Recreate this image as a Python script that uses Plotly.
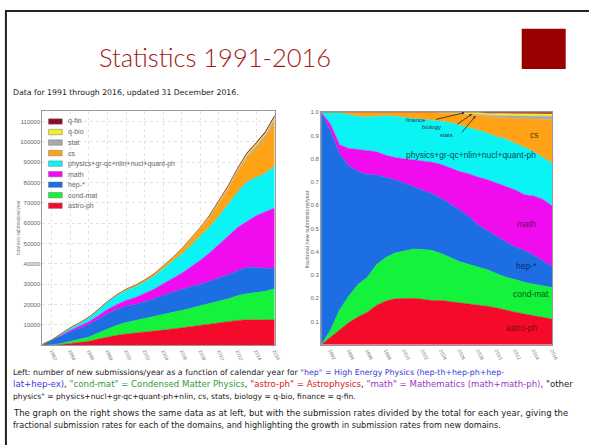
import plotly.graph_objects as go

W, H = 589, 445

# Yearly new submissions per archive group, 1991-2016
years = list(range(1991, 2017))
astro_ph = [0, 80, 360, 820, 1320, 1930, 2980, 4040, 4890, 5500, 5900, 6240, 6650,
            7410, 7960, 8550, 9290, 9980, 10560, 11220, 11620, 12180, 12470, 12440, 12390, 12430]
cond_mat = [0, 80, 480, 990, 1540, 2070, 3060, 4020, 4910, 5640, 6250, 6880, 7530,
            7880, 8170, 8410, 8820, 9450, 10050, 10440, 11150, 12180, 12850, 13430, 14180, 15370]
hep = [400, 2240, 3750, 4820, 5340, 6110, 6740, 7420, 7810, 7980, 7910, 8160, 8580,
       9280, 9890, 10590, 10760, 10440, 10750, 11360, 11930, 12180, 12950, 12440, 11240, 10060]
math = [0, 80, 220, 650, 1050, 1410, 1750, 2040, 2360, 2890, 3390, 4000, 4730,
        5660, 6670, 7840, 9710, 11890, 14080, 16330, 18920, 21320, 22680, 25370, 27830, 29610]
physics = [0, 130, 770, 1250, 1560, 2000, 2660, 3660, 4390, 4900, 5310, 5820, 6410,
           7290, 8390, 9500, 10500, 11720, 12800, 14200, 15860, 17400, 19370, 18910, 18900, 20680]
cs = [0, 0, 10, 90, 200, 280, 320, 320, 450, 610, 740, 900, 1090,
      1330, 1720, 2330, 2940, 3710, 4480, 5820, 7140, 9480, 11620, 14130, 17330, 21240]
stat = [0, 0, 0, 0, 0, 0, 0, 0, 0, 0, 0, 0, 0,
        0, 0, 0, 110, 290, 450, 570, 710, 870, 1040, 1190, 1370, 1700]
q_bio = [0, 0, 0, 0, 0, 0, 0, 0, 0, 0, 0, 0, 40,
         160, 220, 290, 370, 460, 510, 640, 710, 870, 950, 1000, 1050, 1130]
q_fin = [0, 0, 0, 0, 0, 0, 0, 0, 0, 0, 0, 0, 0,
         0, 0, 0, 0, 60, 320, 430, 470, 520, 570, 600, 740, 790]

names = ["astro-ph", "cond-mat", "hep-*", "math",
         "physics+gr-qc+nlin+nucl+quant-ph", "cs", "stat", "q-bio", "q-fin"]
series = [astro_ph, cond_mat, hep, math, physics, cs, stat, q_bio, q_fin]
colors = ["#f50a2c", "#14f23c", "#1c6ee2", "#f00cee", "#0af4f6",
          "#ffa216", "#a9a9a9", "#f3ef26", "#8c0a24"]

left_ticks = list(range(10000, 110001, 10000))
right_ticks = [0.1, 0.2, 0.3, 0.4, 0.5, 0.6, 0.7, 0.8, 0.9, 1.0]
year_ticks = list(range(1992, 2017, 2))


def px(x):
    return x / W


def py(y):
    return 1 - y / H


fig = go.Figure()
for name, vals, col in zip(names, series, colors):
    fig.add_trace(go.Scatter(x=years, y=vals, name=name, mode="lines",
                             stackgroup="counts", fillcolor=col,
                             line=dict(width=0.5, color=col),
                             xaxis="x", yaxis="y", showlegend=False))
    fig.add_trace(go.Scatter(x=years, y=vals, name=name, mode="lines",
                             stackgroup="fractions", groupnorm="fraction",
                             fillcolor=col, line=dict(width=0.5, color=col),
                             xaxis="x2", yaxis="y2", showlegend=False))

tickfont = dict(family="Liberation Sans", size=6, color="#666666")
common_x = dict(range=[1991, 2016], tickvals=year_ticks,
                ticktext=[str(y) for y in year_ticks], tickangle=65,
                tickfont=dict(family="Liberation Sans", size=5, color="#777777"),
                showline=True, linecolor="#999999", linewidth=1, mirror=True,
                ticks="", zeroline=False)

fig.update_layout(
    width=W, height=H,
    margin=dict(l=0, r=0, t=0, b=0),
    paper_bgcolor="white", plot_bgcolor="white",
    showlegend=False,
    xaxis=dict(domain=[px(43), px(278)], anchor="y", showgrid=True,
               gridcolor="#e2e2e2", griddash="dot", gridwidth=1, **common_x),
    yaxis=dict(domain=[py(344.5), py(109)], anchor="x", range=[0, 115000],
               tickvals=left_ticks, ticktext=[str(v) for v in left_ticks],
               tickfont=tickfont, showgrid=True, gridcolor="#e2e2e2",
               griddash="dot", showline=True, linecolor="#999999", mirror=True,
               ticks="", zeroline=False),
    xaxis2=dict(domain=[px(325), px(559)], anchor="y2", showgrid=False, **common_x),
    yaxis2=dict(domain=[py(344), py(110)], anchor="x2", range=[0, 1.0],
                tickvals=right_ticks, ticktext=["%.1f" % v for v in right_ticks],
                tickfont=tickfont, showgrid=False, showline=True,
                linecolor="#999999", mirror=True, ticks="", zeroline=False),
)

shapes = []
# slide frame and accent square
shapes.append(dict(type="rect", xref="paper", yref="paper",
                   x0=px(6), x1=px(640), y0=py(500), y1=py(8),
                   line=dict(color="#222222", width=2), fillcolor="rgba(0,0,0,0)"))
shapes.append(dict(type="rect", xref="paper", yref="paper",
                   x0=px(528), x1=px(572.5), y0=py(66.5), y1=py(26),
                   line=dict(width=0), fillcolor="#990000"))

annotations = []
annotations.append(dict(text="Statistics 1991-2016", x=px(218), y=py(54),
                        xref="paper", yref="paper", showarrow=False,
                        xanchor="center", yanchor="middle",
                        font=dict(family="Lato", size=25.5, color="#a01818", weight=300)))
annotations.append(dict(text="Data for 1991 through 2016, updated 31 December 2016.",
                        x=px(11), y=py(90), xref="paper", yref="paper",
                        showarrow=False, xanchor="left", yanchor="middle",
                        font=dict(family="DejaVu Sans", size=7.75, color="#222222")))

# legend of the left panel, top entry first
leg_y0, leg_dy = 119.3, 10.6
for i, (name, col) in enumerate(zip(names[::-1], colors[::-1])):
    yc = leg_y0 + i * leg_dy
    shapes.append(dict(type="rect", xref="paper", yref="paper",
                       x0=px(49), x1=px(63), y0=py(yc + 2.7), y1=py(yc - 2.7),
                       line=dict(color="#777777", width=0.5), fillcolor=col))
    annotations.append(dict(text=name, x=px(67), y=py(yc), xref="paper", yref="paper",
                            showarrow=False, xanchor="left", yanchor="middle",
                            font=dict(family="Liberation Sans", size=7, color="#666666")))

# axis titles
annotations.append(dict(text="total new submissions/year", x=px(14), y=py(226),
                        xref="paper", yref="paper", showarrow=False, textangle=-90,
                        font=dict(family="Liberation Sans", size=4.5, color="#777777")))
annotations.append(dict(text="fractional new submissions/year", x=px(311.5), y=py(228),
                        xref="paper", yref="paper", showarrow=False, textangle=-90,
                        font=dict(family="Liberation Sans", size=5.5, color="#666666")))

# area labels on the right panel
area_labels = [("cs", 541, 133, "#5a3a00"),
               ("physics+gr-qc+nlin+nucl+quant-ph", 477, 153, "#0a4a4a"),
               ("math", 533, 222, "#6a0a6a"),
               ("hep-*", 533, 265, "#0a2a6a"),
               ("cond-mat", 537, 293, "#0a5a1a"),
               ("astro-ph", 528, 327, "#7a0a0a")]
for txt, x, y, c in area_labels:
    annotations.append(dict(text=txt, x=px(x), y=py(y), xref="paper", yref="paper",
                            showarrow=False, xanchor="center", yanchor="middle",
                            font=dict(family="Liberation Sans", size=8.5, color=c)))

small = [("finance", 421, 118, 2006.5, 0.998, -30, 7),
         ("biology", 437, 125, 2007.3, 0.992, -16, 11),
         ("stats", 452, 133, 2007.7, 0.984, -15, 18)]
for txt, x, y, tx, ty, ax, ay in small:
    annotations.append(dict(text=txt, x=px(x), y=py(y), xref="paper", yref="paper",
                            showarrow=False, xanchor="center", yanchor="middle",
                            font=dict(family="Liberation Sans", size=6, color="#333333")))
    annotations.append(dict(text="", x=tx, y=ty, xref="x2", yref="y2",
                            showarrow=True, ax=ax, ay=ay, arrowhead=2,
                            arrowsize=0.6, arrowwidth=0.8, arrowcolor="#222222"))

# caption below the panels (each line sized to its wrapped width)
blue, green, red, purple = "#3b3bd6", "#2f9a3c", "#d42020", "#9a34c8"
cap = [
    ('Left: number of new submissions/year as a function of calendar year for '
     '<span style="color:%s">"hep" = High Energy Physics (hep-th+hep-ph+hep-</span>' % blue, 372, 7.9),
    ('<span style="color:%s">lat+hep-ex)</span>, <span style="color:%s">"cond-mat" = Condensed Matter Physics</span>, '
     '<span style="color:%s">"astro-ph" = Astrophysics</span>, '
     '<span style="color:%s">"math" = Mathematics (math+math-ph)</span>, "other' % (blue, green, red, purple), 384, 8.6),
    ('physics" = physics+nucl+gr-qc+quant-ph+nlin, cs, stats, biology = q-bio, finance = q-fin.', 396, 7.6),
    ('The graph on the right shows the same data as at left, but with the submission rates divided by the total for each year, giving the', 413, 8.5),
    ('fractional submission rates for each of the domains, and highlighting the growth in submission rates from new domains.', 425, 8.1),
]
for txt, y, size in cap:
    annotations.append(dict(text=txt, x=px(11), y=py(y), xref="paper", yref="paper",
                            showarrow=False, xanchor="left", yanchor="middle",
                            font=dict(family="DejaVu Sans", size=size, color="#222222")))

fig.update_layout(shapes=shapes, annotations=annotations)
fig.write_html("out.html")
